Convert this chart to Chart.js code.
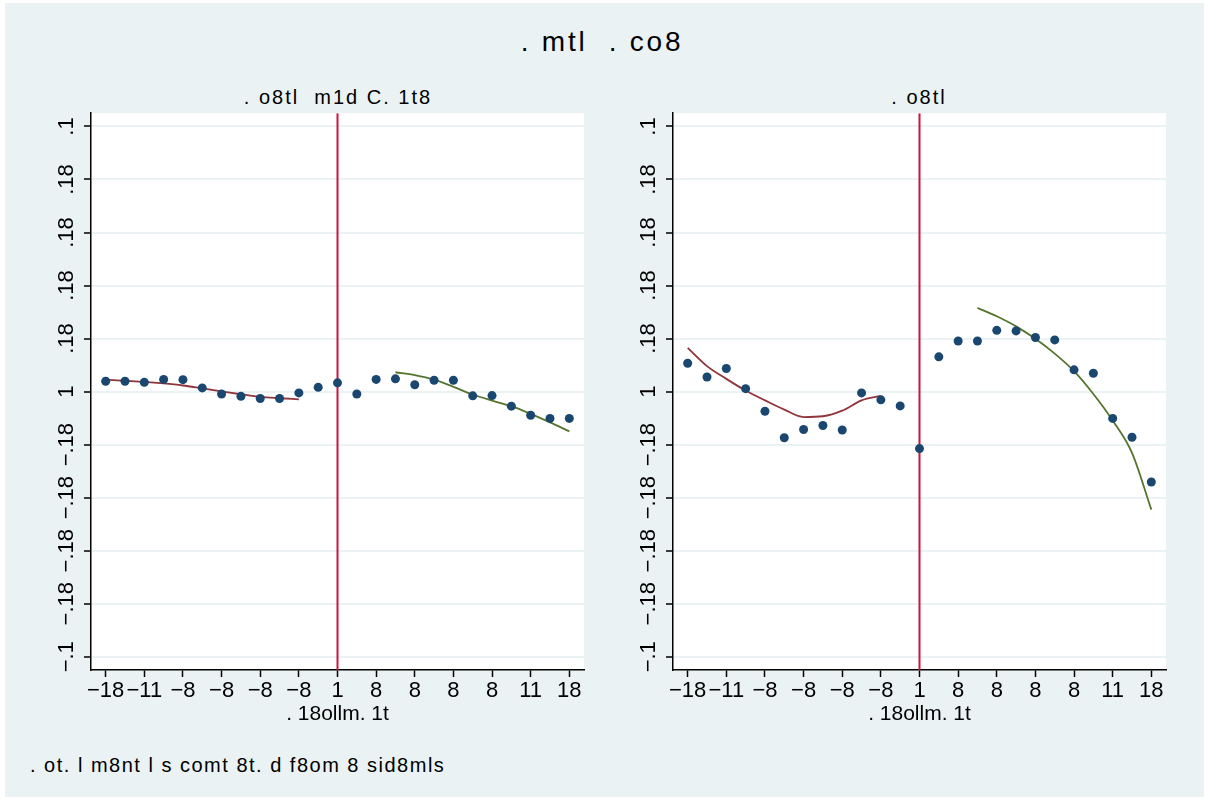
<!DOCTYPE html>
<html>
<head>
<meta charset="utf-8">
<script src="https://cdn.jsdelivr.net/npm/chart.js@4.4.1/dist/chart.umd.min.js"></script>
<style>
  body { margin: 0; background: #fff; font-family: "Liberation Sans", Arial, sans-serif; }
  #frame { position: absolute; left: 5px; top: 3px; width: 1199px; height: 794px; background: #eaf2f3; }
  .txt { position: absolute; color: #000; white-space: pre; line-height: 1; transform: translate(-50%, -50%); }
  canvas { position: absolute; }
</style>
</head>
<body>
<div id="frame"></div>
<div class="txt" style="left:602px; top:42px; font-size:28px; letter-spacing:2.8px;">. mtl  . co8</div>
<div class="txt" style="left:338px; top:97px; font-size:20px; letter-spacing:2px;">. o8tl  m1d C. 1t8</div>
<div class="txt" style="left:919px; top:97px; font-size:20px; letter-spacing:2px;">. o8tl</div>
<div class="txt" style="left:30px; top:765px; font-size:20px; letter-spacing:1.5px; transform: translate(0, -50%);">. ot. l m8nt l s comt 8t. d f8om 8 sid8mls</div>
<canvas id="chartLeft" width="600" height="630" style="left:0px; top:105px;"></canvas>
<canvas id="chartRight" width="600" height="630" style="left:582px; top:105px;"></canvas>
<script>
// bins along the running variable
const bins = [-30, -27.5, -25, -22.5, -20, -17.5, -15, -12.5, -10, -7.5, -5, -2.5, 0,
              2.5, 5, 7.5, 10, 12.5, 15, 17.5, 20, 22.5, 25, 27.5, 30];

// binned means, left panel
const leftMeans = [0.0039, 0.0039, 0.0035, 0.0046, 0.0045, 0.0014, -0.0009, -0.0018, -0.0026, -0.0026,
                   -0.0005, 0.0016, 0.0033, -0.0009, 0.0046, 0.0048, 0.0026, 0.0043, 0.0043, -0.0016,
                   -0.0015, -0.0055, -0.0089, -0.0101, -0.0101];
// binned means, right panel
const rightMeans = [0.0107, 0.0055, 0.0087, 0.0011, -0.0074, -0.0174, -0.0143, -0.0128, -0.0145, -0.0005,
                    -0.0031, -0.0054, -0.0215, 0.0131, 0.0191, 0.0191, 0.0231, 0.0229, 0.0204, 0.0195,
                    0.0082, 0.0069, -0.0101, -0.0172, -0.0341];

// fitted curves below / above the cutoff
const fitBelowX = [-30, -27.5, -25, -22.5, -20, -17.5, -15, -12.5, -10, -7.5, -5];
const fitAboveX = [7.5, 10, 12.5, 15, 17.5, 20, 22.5, 25, 27.5, 30];
const leftFitBelow = [0.0045, 0.0041, 0.0037, 0.0031, 0.0023, 0.0012, 0.0001, -0.0010, -0.0020, -0.0025, -0.0029];
const leftFitAbove = [0.0073, 0.0062, 0.0045, 0.0018, -0.0011, -0.0034, -0.0055, -0.0084, -0.0116, -0.0150];
const rightFitBelow = [0.0165, 0.0096, 0.0048, 0.0004, -0.0033, -0.0068, -0.0096, -0.0093, -0.0072, -0.0033, -0.0016];
const rightFitAbove = [0.0316, 0.0284, 0.0246, 0.0199, 0.0143, 0.0077, -0.0009, -0.0109, -0.0231, -0.0445];

// axes
const xTickVals = [-30, -25, -20, -15, -10, -5, 0, 5, 10, 15, 20, 25, 30];
const xTickText = ['\u221218', '\u221211', '\u22128', '\u22128', '\u22128', '\u22128', '1', '8', '8', '8', '8', '11', '18'];
const yTickVals = [-0.1, -0.08, -0.06, -0.04, -0.02, 0, 0.02, 0.04, 0.06, 0.08, 0.1];
const yTickText = ['\u2212.1', '\u2212.18', '\u2212.18', '\u2212.18', '\u2212.18', '1', '.18', '.18', '.18', '.18', '.1'];
const xTitle = '. 18ollm. 1t';
const cutoff = 0;

const xMin = -31.9, xMax = 31.9;
const yMin = -0.105, yMax = 0.105;

Chart.defaults.font.family = '"Liberation Sans", Arial, sans-serif';
Chart.defaults.color = '#000';

// white plot region on the tinted page
const plotBg = {
  id: 'plotBg',
  beforeDraw(chart) {
    const { ctx, chartArea: a } = chart;
    ctx.save();
    ctx.fillStyle = '#fff';
    ctx.fillRect(a.left, a.top, a.right - a.left, a.bottom - a.top);
    ctx.restore();
  }
};

function pairs(xs, ys) {
  return xs.map((x, i) => ({ x: x, y: ys[i] }));
}

function makePanel(id, means, fitBelow, fitAbove) {
  const ctx = document.getElementById(id).getContext('2d');
  return new Chart(ctx, {
    type: 'scatter',
    data: {
      datasets: [
        {
          data: pairs(bins, means),
          backgroundColor: '#1a476f',
          borderColor: '#1a476f',
          pointRadius: 4.5,
          pointBorderWidth: 0
        },
        {
          data: pairs(fitBelowX, fitBelow),
          showLine: true,
          borderColor: '#90353b',
          borderWidth: 1.8,
          pointRadius: 0,
          cubicInterpolationMode: 'monotone'
        },
        {
          data: pairs(fitAboveX, fitAbove),
          showLine: true,
          borderColor: '#55752f',
          borderWidth: 1.8,
          pointRadius: 0,
          cubicInterpolationMode: 'monotone'
        },
        {
          data: [{ x: cutoff, y: yMin }, { x: cutoff, y: yMax }],
          showLine: true,
          borderColor: '#cc1440',
          borderWidth: 2,
          pointRadius: 0
        }
      ]
    },
    options: {
      responsive: false,
      animation: false,
      layout: { padding: { top: 8, right: 16, bottom: 0, left: 0 } },
      plugins: { legend: { display: false }, tooltip: { enabled: false } },
      scales: {
        x: {
          type: 'linear',
          min: xMin,
          max: xMax,
          afterBuildTicks: s => { s.ticks = xTickVals.map(v => ({ value: v })); },
          afterFit: s => { s.height = 65; },
          grid: { drawOnChartArea: false, tickLength: 7, tickColor: '#000', tickWidth: 1.5 },
          border: { color: '#000', width: 1.5 },
          ticks: {
            autoSkip: false, maxRotation: 0, padding: 1,
            font: { size: 22 },
            callback: (v, i) => xTickText[i]
          },
          title: { display: true, text: xTitle, font: { size: 21 }, padding: { top: 0, bottom: 8 } }
        },
        y: {
          type: 'linear',
          min: yMin,
          max: yMax,
          afterBuildTicks: s => { s.ticks = yTickVals.map(v => ({ value: v })); },
          afterFit: s => { s.width = 91; },
          grid: { color: '#eaf2f3', lineWidth: 2, tickLength: 7, tickColor: '#000', tickWidth: 1.5 },
          border: { color: '#000', width: 1.5 },
          ticks: {
            minRotation: 90, maxRotation: 90, crossAlign: 'center', padding: -5,
            font: { size: 22 },
            callback: (v, i) => yTickText[i]
          }
        }
      }
    },
    plugins: [plotBg]
  });
}

makePanel('chartLeft', leftMeans, leftFitBelow, leftFitAbove);
makePanel('chartRight', rightMeans, rightFitBelow, rightFitAbove);
</script>
</body>
</html>
